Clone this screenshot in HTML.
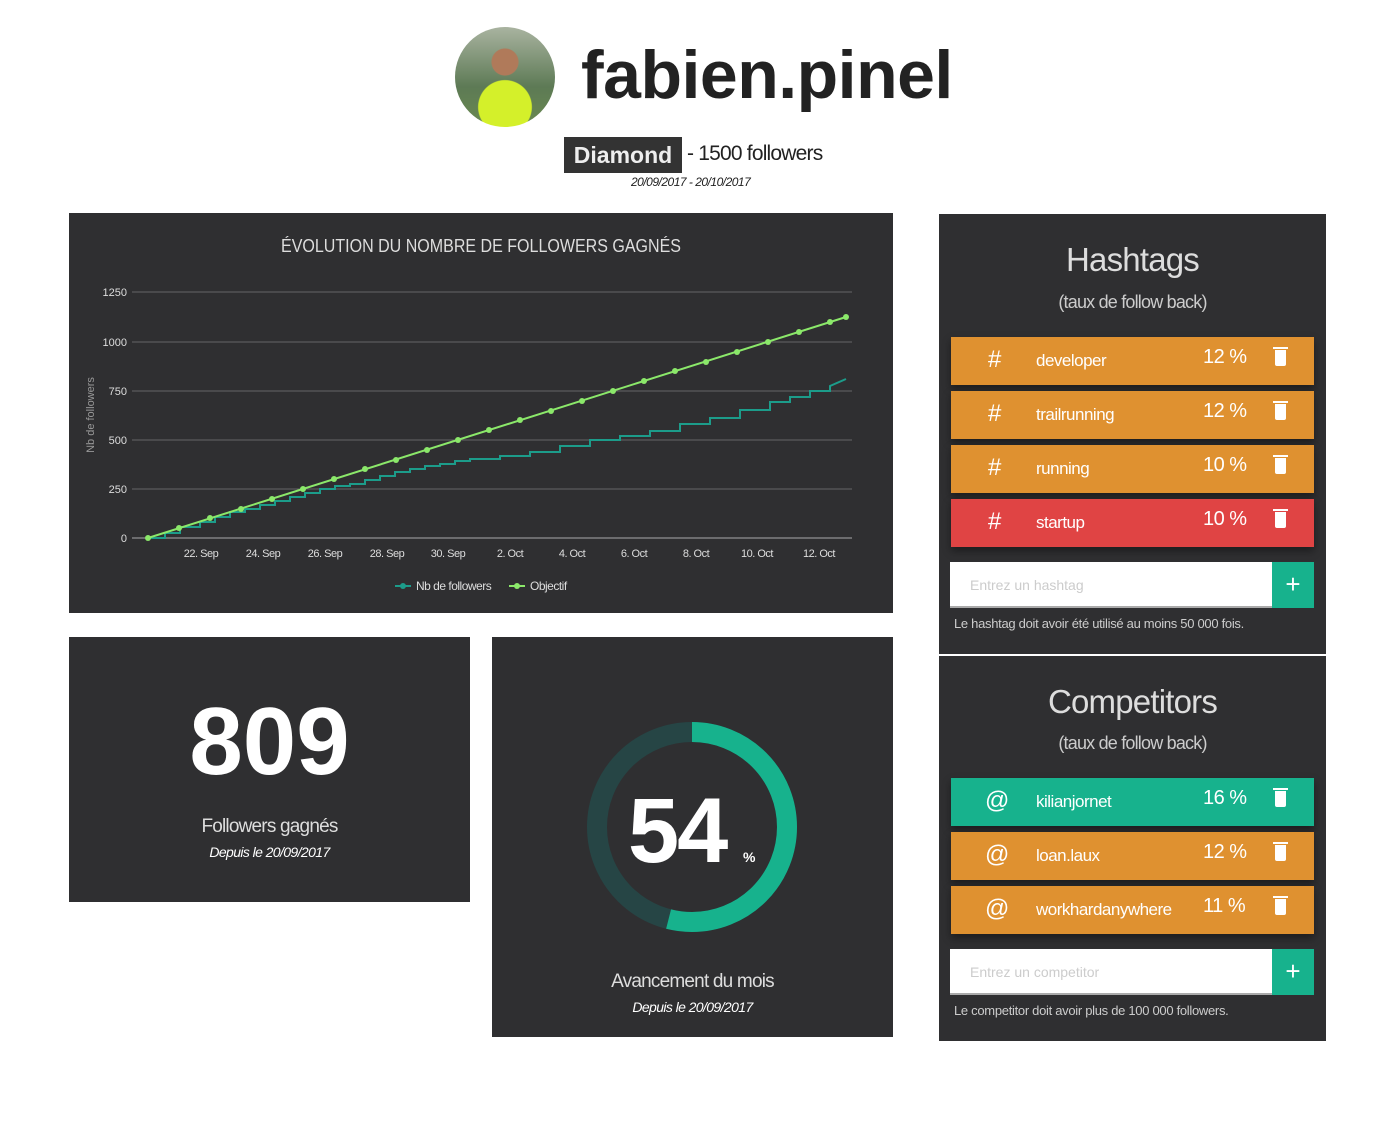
<!DOCTYPE html>
<html><head><meta charset="utf-8"><style>
body{margin:0;width:1385px;height:1140px;background:#fff;font-family:"Liberation Sans",sans-serif;position:relative;overflow:hidden}
.a{position:absolute}
.card{position:absolute;background:#2f2f31}
.row{position:absolute;left:12px;width:363px;height:48px;color:#fff;font-size:17px;box-shadow:0 4px 8px rgba(0,0,0,.4);letter-spacing:-0.5px}
.row span{position:absolute;top:14px}
.trash{position:absolute;left:324px;top:13px;width:11px;height:16px;background:#fff;border-radius:0 0 2px 2px}
.trash:before{content:"";position:absolute;left:-2px;top:-3px;width:15px;height:2px;background:#fff}
.inp{position:absolute;left:11px;width:322px;height:46px;background:#fff;border-bottom:2px solid #aaa;box-sizing:border-box;color:#ccc;font-size:14px;padding:15px 20px}
.plus{position:absolute;left:333px;width:42px;height:46px;background:#17b28d;color:#fff;font-size:26px;text-align:center;line-height:44px}
.note{position:absolute;left:15px;color:#ccc;font-size:13px;letter-spacing:-0.3px}
</style></head><body>
<div class="a" style="left:455px;top:27px;width:100px;height:100px;border-radius:50%;background:radial-gradient(circle at 50% 80%,#d4f02a 0 28%,transparent 29%),radial-gradient(circle at 50% 35%,#b07a5a 0 16%,transparent 17%),linear-gradient(#a9b3a0,#5d7a55 60%,#6a8a50)"></div>
<div class="a" style="left:581px;top:36px;font-size:68px;font-weight:bold;color:#222;letter-spacing:-0.5px">fabien.pinel</div>
<div class="a" style="left:564px;top:137px;width:118px;height:36px;background:#333;color:#eee;font-weight:bold;font-size:23px;text-align:center;line-height:36px">Diamond</div>
<div class="a" style="left:687px;top:142px;font-size:21px;color:#222;letter-spacing:-0.8px">- 1500 followers</div>
<div class="a" style="left:631px;top:175px;font-size:12px;font-style:italic;color:#222;letter-spacing:-0.5px">20/09/2017 - 20/10/2017</div>

<div class="card" style="left:69px;top:213px;width:824px;height:400px"></div>
<svg class="a" style="left:0;top:0" width="900" height="620" font-family="Liberation Sans" >
<text x="481" y="252" fill="#ddd" font-size="18" text-anchor="middle" textLength="400" lengthAdjust="spacingAndGlyphs">ÉVOLUTION DU NOMBRE DE FOLLOWERS GAGNÉS</text>
<g stroke="#666" stroke-width="1">
<line x1="132" y1="292" x2="852" y2="292"/><line x1="132" y1="342" x2="852" y2="342"/><line x1="132" y1="391" x2="852" y2="391"/><line x1="132" y1="440" x2="852" y2="440"/><line x1="132" y1="489" x2="852" y2="489"/><line x1="132" y1="538" x2="852" y2="538" stroke="#aaa"/></g>
<g fill="#ddd" font-size="11" text-anchor="end"><text x="127" y="296">1250</text><text x="127" y="346">1000</text><text x="127" y="395">750</text><text x="127" y="444">500</text><text x="127" y="493">250</text><text x="127" y="542">0</text></g>
<text transform="translate(94,415) rotate(-90)" fill="#999" font-size="11" text-anchor="middle">Nb de followers</text>
<g fill="#ddd" font-size="11" text-anchor="middle" letter-spacing="-0.5"><text x="201" y="557">22. Sep</text><text x="263" y="557">24. Sep</text><text x="325" y="557">26. Sep</text><text x="387" y="557">28. Sep</text><text x="448" y="557">30. Sep</text><text x="510" y="557">2. Oct</text><text x="572" y="557">4. Oct</text><text x="634" y="557">6. Oct</text><text x="696" y="557">8. Oct</text><text x="757" y="557">10. Oct</text><text x="819" y="557">12. Oct</text></g>
<polyline fill="none" stroke="#1c9c8a" stroke-width="2" points="148,538 165,538 165,533 180,533 180,527 200,527 200,522 215,522 215,517 230,517 230,512 245,512 245,509 260,509 260,505 275,505 275,501 290,501 290,497 305,497 305,493 320,493 320,489 335,489 335,486 350,486 350,484 365,484 365,480 380,480 380,476 395,476 395,472 410,472 410,469 425,469 425,466 440,466 440,464 455,464 455,461 470,461 470,459 500,459 500,456 530,456 530,452 560,452 560,446 590,446 590,440 620,440 620,436 650,436 650,431 680,431 680,424 710,424 710,418 740,418 740,410 770,410 770,402 790,402 790,397 810,397 810,391 830,391 830,386 846,379"/>
<polyline fill="none" stroke="#8be86a" stroke-width="2" points="148,538 846,317"/>
<g fill="#8be86a">
<circle cx="148" cy="538" r="3"/><circle cx="179" cy="528" r="3"/><circle cx="210" cy="518" r="3"/><circle cx="241" cy="509" r="3"/><circle cx="272" cy="499" r="3"/><circle cx="303" cy="489" r="3"/><circle cx="334" cy="479" r="3"/><circle cx="365" cy="469" r="3"/><circle cx="396" cy="460" r="3"/><circle cx="427" cy="450" r="3"/><circle cx="458" cy="440" r="3"/><circle cx="489" cy="430" r="3"/><circle cx="520" cy="420" r="3"/><circle cx="551" cy="411" r="3"/><circle cx="582" cy="401" r="3"/><circle cx="613" cy="391" r="3"/><circle cx="644" cy="381" r="3"/><circle cx="675" cy="371" r="3"/><circle cx="706" cy="362" r="3"/><circle cx="737" cy="352" r="3"/><circle cx="768" cy="342" r="3"/><circle cx="799" cy="332" r="3"/><circle cx="830" cy="322" r="3"/><circle cx="846" cy="317" r="3"/></g>
<line x1="395" y1="586" x2="411" y2="586" stroke="#1c9c8a" stroke-width="2"/><circle cx="403" cy="586" r="3" fill="#1c9c8a"/>
<text x="416" y="590" fill="#ddd" font-size="12" letter-spacing="-0.5">Nb de followers</text>
<line x1="509" y1="586" x2="525" y2="586" stroke="#8be86a" stroke-width="2"/><circle cx="517" cy="586" r="3" fill="#8be86a"/>
<text x="530" y="590" fill="#ddd" font-size="12" letter-spacing="-0.5">Objectif</text>
</svg>

<div class="card" style="left:69px;top:637px;width:401px;height:265px;color:#fff;text-align:center">
<div class="a" style="left:0;width:401px;top:50px;font-size:96px;font-weight:bold">809</div>
<div class="a" style="left:0;width:401px;top:179px;font-size:19px;color:#ddd;letter-spacing:-0.8px">Followers gagnés</div>
<div class="a" style="left:0;width:401px;top:207px;font-size:14px;font-style:italic;letter-spacing:-0.6px">Depuis le 20/09/2017</div>
</div>

<div class="card" style="left:492px;top:637px;width:401px;height:400px;color:#fff;text-align:center">
<svg class="a" style="left:0;top:0" width="401" height="300"><circle cx="200" cy="190" r="95" fill="none" stroke="#264545" stroke-width="20"/>
<circle cx="200" cy="190" r="95" fill="none" stroke="#17b28d" stroke-width="20" stroke-dasharray="322 600" transform="rotate(-90 200 190)"/></svg>
<div class="a" style="left:136px;top:142px;font-size:92px;font-weight:bold;letter-spacing:-2px">54</div>
<div class="a" style="left:251px;top:212px;font-size:14px;font-weight:bold">%</div>
<div class="a" style="left:0;width:401px;top:334px;font-size:19px;color:#ddd;letter-spacing:-0.8px">Avancement du mois</div>
<div class="a" style="left:0;width:401px;top:362px;font-size:14px;font-style:italic;letter-spacing:-0.6px">Depuis le 20/09/2017</div>
</div>

<div class="card" style="left:939px;top:214px;width:387px;height:440px">
<div class="a" style="left:0;width:387px;top:27px;text-align:center;color:#ddd;font-size:33px;letter-spacing:-0.8px">Hashtags</div>
<div class="a" style="left:0;width:387px;top:78px;text-align:center;color:#ccc;font-size:18px;letter-spacing:-0.8px">(taux de follow back)</div>
<div class="row" style="top:123px;background:#df9130"><span style="left:37px;font-size:24px;top:9px">#</span><span style="left:85px">developer</span><span style="left:252px;top:9px;font-size:20px">12 %</span><div class="trash"></div></div>
<div class="row" style="top:177px;background:#df9130"><span style="left:37px;font-size:24px;top:9px">#</span><span style="left:85px">trailrunning</span><span style="left:252px;top:9px;font-size:20px">12 %</span><div class="trash"></div></div>
<div class="row" style="top:231px;background:#df9130"><span style="left:37px;font-size:24px;top:9px">#</span><span style="left:85px">running</span><span style="left:252px;top:9px;font-size:20px">10 %</span><div class="trash"></div></div>
<div class="row" style="top:285px;background:#e04444"><span style="left:37px;font-size:24px;top:9px">#</span><span style="left:85px">startup</span><span style="left:252px;top:9px;font-size:20px">10 %</span><div class="trash"></div></div>
<div class="inp" style="top:348px">Entrez un hashtag</div><div class="plus" style="top:348px">+</div>
<div class="note" style="top:402px">Le hashtag doit avoir été utilisé au moins 50 000 fois.</div>
</div>

<div class="card" style="left:939px;top:656px;width:387px;height:385px">
<div class="a" style="left:0;width:387px;top:27px;text-align:center;color:#ddd;font-size:33px;letter-spacing:-0.8px">Competitors</div>
<div class="a" style="left:0;width:387px;top:77px;text-align:center;color:#ccc;font-size:18px;letter-spacing:-0.8px">(taux de follow back)</div>
<div class="row" style="top:122px;background:#17b28d"><span style="left:34px;font-size:24px;top:9px">@</span><span style="left:85px">kilianjornet</span><span style="left:252px;top:9px;font-size:20px">16 %</span><div class="trash"></div></div>
<div class="row" style="top:176px;background:#df9130"><span style="left:34px;font-size:24px;top:9px">@</span><span style="left:85px">loan.laux</span><span style="left:252px;top:9px;font-size:20px">12 %</span><div class="trash"></div></div>
<div class="row" style="top:230px;background:#df9130"><span style="left:34px;font-size:24px;top:9px">@</span><span style="left:85px">workhardanywhere</span><span style="left:252px;top:9px;font-size:20px">11 %</span><div class="trash"></div></div>
<div class="inp" style="top:293px">Entrez un competitor</div><div class="plus" style="top:293px">+</div>
<div class="note" style="top:347px">Le competitor doit avoir plus de 100 000 followers.</div>
</div>
</body></html>
